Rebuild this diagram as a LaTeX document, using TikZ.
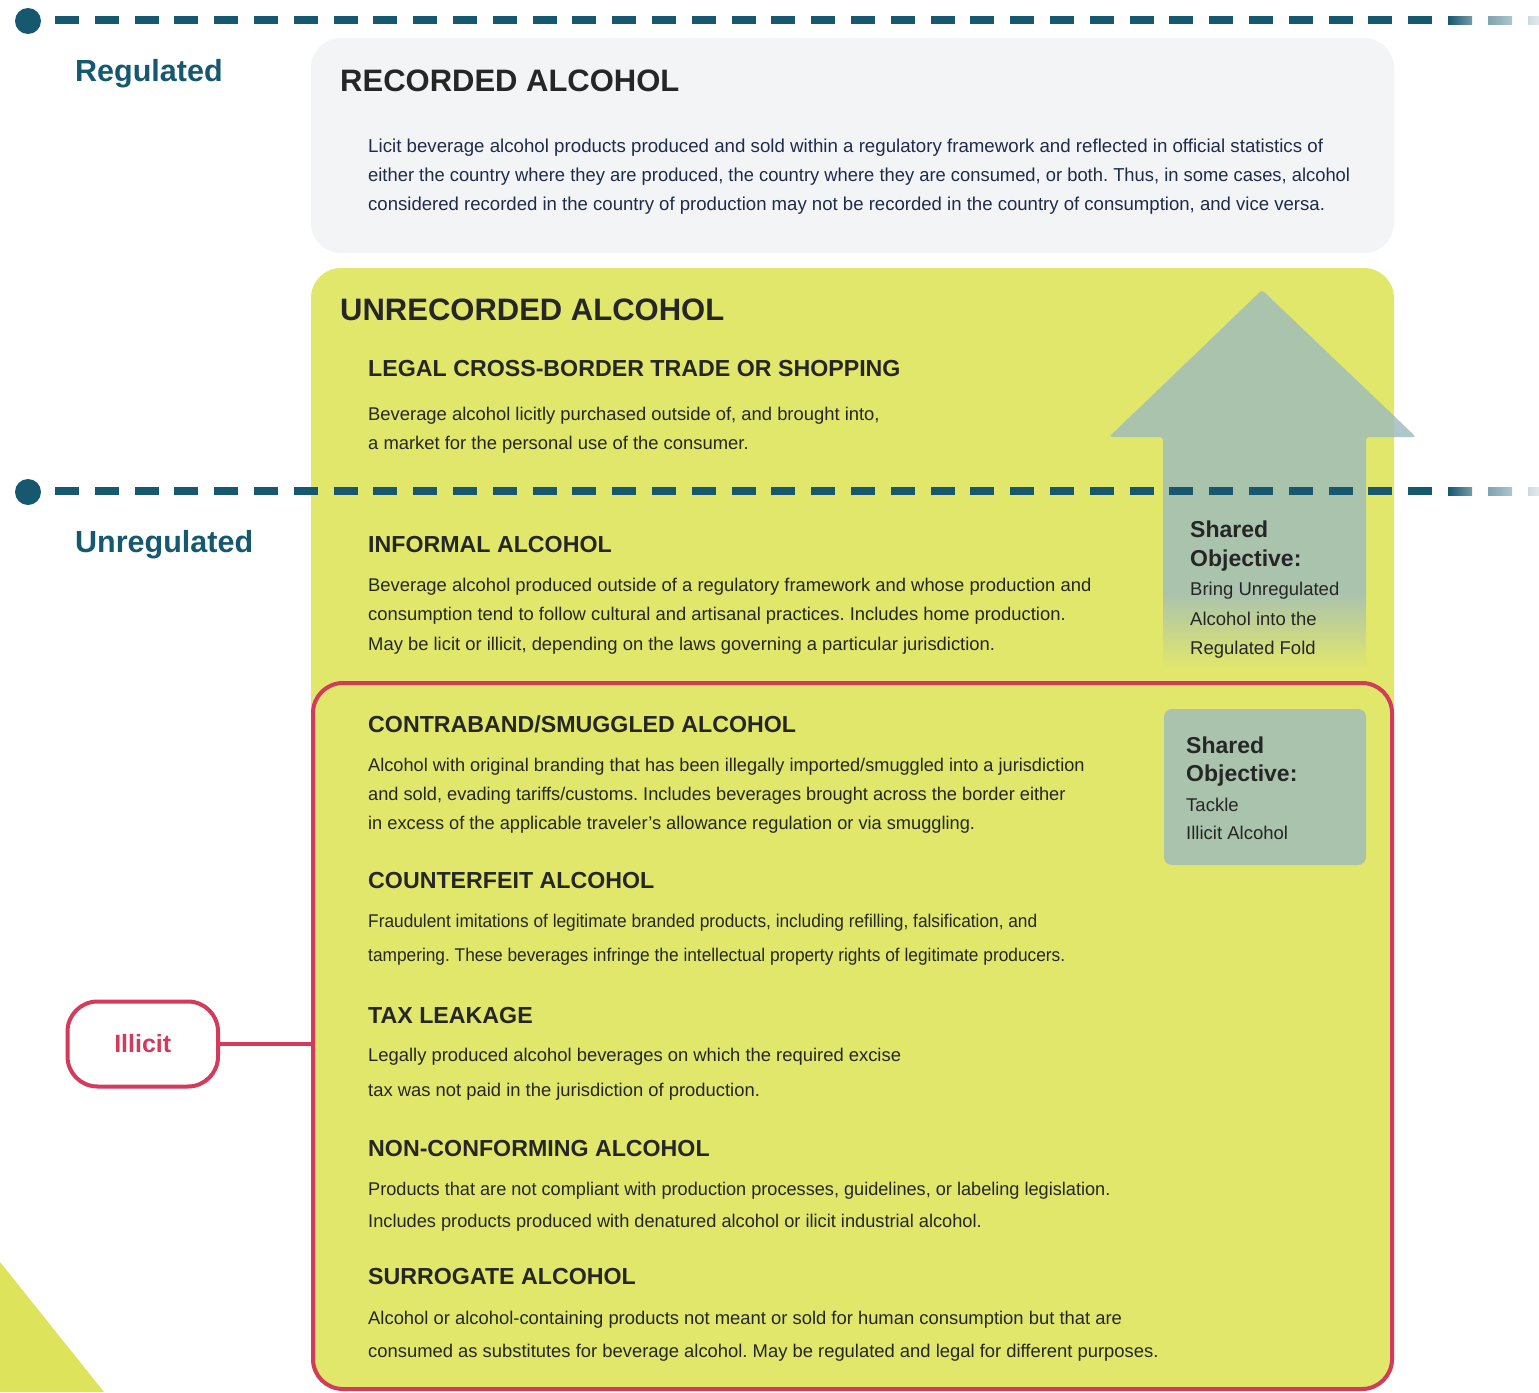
\documentclass[tikz,border=0pt]{standalone}
\usepackage{fontspec}
\setmainfont{Liberation Sans}
\newfontfamily\condfont[FakeStretch=0.94]{Liberation Sans}
\frenchspacing
\definecolor{tealdk}{HTML}{16586F}
\definecolor{graybg}{HTML}{F3F4F6}
\definecolor{yel}{HTML}{E1E76B}
\definecolor{tri}{HTML}{DDE35A}
\definecolor{redc}{HTML}{D33A5B}
\definecolor{arrowc}{RGB}{156,186,189}
\definecolor{arrowony}{HTML}{AAC3AD}
\definecolor{navy}{HTML}{1E2B4A}
\definecolor{ink}{HTML}{262626}
\tikzset{
  title/.style={anchor=base west, inner sep=0pt, text=ink, font=\fontsize{31}{36}\selectfont\bfseries},
  head/.style={anchor=base west, inner sep=0pt, text=ink, font=\fontsize{23.2}{28}\selectfont\bfseries},
  body/.style={anchor=base west, inner sep=0pt, text=ink, font=\fontsize{18.4}{22}\selectfont},
  recbody/.style={anchor=base west, inner sep=0pt, text=navy, font=\fontsize{18.7}{22}\selectfont},
  condbody/.style={anchor=base west, inner sep=0pt, text=ink, font=\fontsize{18.4}{22}\condfont},
  squeeze/.style={xscale=#1, transform shape},
  regl/.style={anchor=base west, inner sep=0pt, text=tealdk, font=\fontsize{30.5}{36}\selectfont\bfseries},
  objb/.style={anchor=base west, inner sep=0pt, text=ink, font=\fontsize{23}{28}\selectfont\bfseries},
  objr/.style={anchor=base west, inner sep=0pt, text=ink, font=\fontsize{18.5}{22}\selectfont},
  dashline/.style={tealdk, line width=8pt, dash pattern=on 24pt off 15.8pt},
}
\begin{document}
\begin{tikzpicture}[x=1pt,y=-1pt]
\useasboundingbox (0,0) rectangle (1539,1392);
\fill[white] (0,0) rectangle (1539,1392);
% bottom-left triangle
\fill[tri] (0,1262) -- (104,1392) -- (0,1392) -- cycle;
% boxes
\fill[graybg, rounded corners=30pt] (311,38) rectangle (1394,253);
\fill[yel, rounded corners=30pt] (311,268) rectangle (1394,1390);
% arrow
\fill[arrowc, opacity=0.8] (1163,595) [rounded corners=3pt] -- (1163,437) -- (1109,437) -- (1262,290) -- (1416,437) -- (1366,437) [sharp corners] -- (1366,595) -- cycle;
\shade[top color=arrowony, bottom color=yel] (1163,593) rectangle (1366,668);
% illicit frame
\draw[redc, line width=4pt, rounded corners=30pt] (313,683) rectangle (1392,1389);
% shared objective box
\fill[arrowony, rounded corners=8pt] (1164,709) rectangle (1366,865);
% dashed lines
\foreach \yy in {20,491}{
  \draw[dashline] (55,\yy) -- (1432,\yy);
  \shade[left color=tealdk, right color=tealdk!60] (1448,\yy-4) rectangle (1472,\yy+4);
  \shade[left color=tealdk!55, right color=tealdk!35] (1488,\yy-4) rectangle (1512,\yy+4);
  \shade[left color=tealdk!22, right color=tealdk!12] (1528,\yy-4) rectangle (1539,\yy+4);
  \fill[tealdk] (28,\yy+1) circle (13pt);
}
% side labels
\node[regl] (regulated) at (75,81) {Regulated};
\node[regl] (unregulated) at (75,552) {Unregulated};
% recorded
\node[title] (rectitle) at (340,91) {RECORDED ALCOHOL};
\node[recbody] (rec1) at (368,152) {Licit beverage alcohol products produced and sold within a regulatory framework and reflected in official statistics of};
\node[recbody, squeeze=0.982] (rec2) at (368,181) {either the country where they are produced, the country where they are consumed, or both. Thus, in some cases, alcohol};
\node[recbody, squeeze=0.993] (rec3) at (368,210) {considered recorded in the country of production may not be recorded in the country of consumption, and vice versa.};
% unrecorded
\node[title] (unrectitle) at (340,320) {UNRECORDED ALCOHOL};
\node[head] (legalh) at (368,376) {LEGAL CROSS-BORDER TRADE OR SHOPPING};
\node[body] (legal1) at (368,420) {Beverage alcohol licitly purchased outside of, and brought into,};
\node[body] (legal2) at (368,449) {a market for the personal use of the consumer.};
\node[head] (informh) at (368,552) {INFORMAL ALCOHOL};
\node[body] (inform1) at (368,591) {Beverage alcohol produced outside of a regulatory framework and whose production and};
\node[body] (inform2) at (368,620) {consumption tend to follow cultural and artisanal practices. Includes home production.};
\node[body] (inform3) at (368,650) {May be licit or illicit, depending on the laws governing a particular jurisdiction.};
\node[head] (contrah) at (368,732) {CONTRABAND/SMUGGLED ALCOHOL};
\node[body, squeeze=0.988] (contra1) at (368,771) {Alcohol with original branding that has been illegally imported/smuggled into a jurisdiction};
\node[body, squeeze=0.99] (contra2) at (368,800) {and sold, evading tariffs/customs. Includes beverages brought across the border either};
\node[body, squeeze=0.99] (contra3) at (368,829) {in excess of the applicable traveler’s allowance regulation or via smuggling.};
\node[head] (counterh) at (368,888) {COUNTERFEIT ALCOHOL};
\node[condbody] (counter1) at (368,927) {Fraudulent imitations of legitimate branded products, including refilling, falsification, and};
\node[condbody] (counter2) at (368,961) {tampering. These beverages infringe the intellectual property rights of legitimate producers.};
\node[head] (taxh) at (368,1023) {TAX LEAKAGE};
\node[body] (tax1) at (368,1061) {Legally produced alcohol beverages on which the required excise};
\node[body] (tax2) at (368,1096) {tax was not paid in the jurisdiction of production.};
\node[head] (nonh) at (368,1156) {NON-CONFORMING ALCOHOL};
\node[body, squeeze=0.986] (non1) at (368,1195) {Products that are not compliant with production processes, guidelines, or labeling legislation.};
\node[body, squeeze=0.99] (non2) at (368,1227) {Includes products produced with denatured alcohol or ilicit industrial alcohol.};
\node[head] (surh) at (368,1284) {SURROGATE ALCOHOL};
\node[body] (sur1) at (368,1324) {Alcohol or alcohol-containing products not meant or sold for human consumption but that are};
\node[body] (sur2) at (368,1357) {consumed as substitutes for beverage alcohol. May be regulated and legal for different purposes.};
% shared objectives
\node[objb] (obj1a) at (1190,537) {Shared};
\node[objb] (obj1b) at (1190,566) {Objective:};
\node[objr] (obj1c) at (1190,595) {Bring Unregulated};
\node[objr] (obj1d) at (1190,625) {Alcohol into the};
\node[objr] (obj1e) at (1190,654) {Regulated Fold};
\node[objb] (obj2a) at (1186,753) {Shared};
\node[objb] (obj2b) at (1186,781) {Objective:};
\node[objr] (obj2c) at (1186,811) {Tackle};
\node[objr] (obj2d) at (1186,839) {Illicit Alcohol};
% illicit tag
\node[draw=redc, line width=4pt, rounded corners=30pt, minimum width=150.5pt, minimum height=85pt, inner sep=0pt, text=redc, font=\fontsize{25}{30}\selectfont\bfseries] (illicit) at (142.75,1044) {Illicit};
\draw[redc, line width=4pt] (illicit.east) -- (313,1044) coordinate (frameleft);
\end{tikzpicture}
\end{document}
